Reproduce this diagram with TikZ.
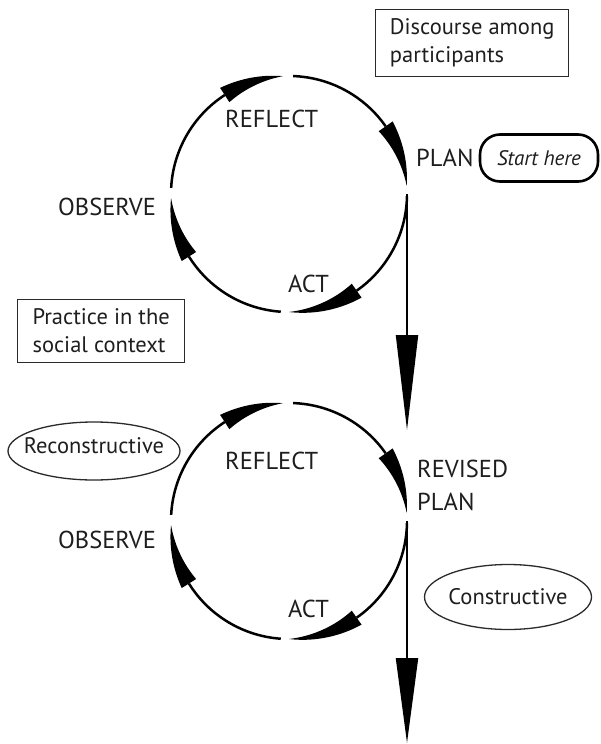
\documentclass[tikz,border=0pt]{standalone}
\usepackage{fontspec}
\setmainfont{PT Sans}
\usetikzlibrary{arrows.meta,shapes.geometric}

% radius of a cycle and half the width of its arrow wedges
\def\rr{118pt}
\def\ww{8.5pt}
% one quarter of a cycle: plain arc from #1 to #2, then a tapering wedge from #2 to #3
\newcommand\cycseg[3]{%
  \draw[ring] (#1:\rr) arc[start angle=#1, end angle=#2, radius=\rr];
  \fill[black] plot[domain=0:1, samples=30] ({#2+(#3-#2)*\x}:{\rr+\ww*(1-\x)})
    -- plot[domain=1:0, samples=30] ({#2+(#3-#2)*\x}:{\rr-\ww*(1-\x)}) -- cycle;
}
\newcommand\cycle[1]{%
  \begin{scope}[shift={(#1)}]
    \cycseg{177}{123}{93}
    \cycseg{88}{35}{4}
    \cycseg{-1}{-55}{-90}
    \cycseg{-94}{-148}{-178}
  \end{scope}
}

\definecolor{ink}{HTML}{1E1E1E}
\definecolor{edge}{HTML}{2A2A2A}

\begin{document}
\begin{tikzpicture}[x=1pt, y=-1pt,
  lbl/.style={font=\fontsize{24.5}{33}\selectfont, text=ink, inner sep=0pt, anchor=base west, align=left},
  note/.style={draw=edge, line width=1.3pt, font=\fontsize{22.5}{28}\selectfont, text=ink,
    align=left, anchor=north west, inner sep=0pt},
  oval/.style={ellipse, draw=edge, line width=1.3pt, font=\fontsize{22.5}{28}\selectfont,
    text=ink, inner sep=0pt},
  startbox/.style={rectangle, rounded corners=20pt, draw=black, line width=2.6pt,
    font=\fontsize{21}{25}\selectfont\itshape, text=ink, inner sep=0pt},
  ring/.style={line width=2.5pt, draw=black},
  flow/.style={line width=2pt, draw=black, -{Triangle[length=95pt, width=22pt]}},
  flowend/.style={line width=2pt, draw=black, -{Triangle[length=85pt, width=22pt]}},
]
\useasboundingbox (0,0) rectangle (600,744);

% first cycle
\coordinate (c1) at (289,194);
\cycle{c1}
\coordinate (plan1) at (407,194);
\coordinate (tip1) at (407,430);
\draw[flow] (plan1) -- (tip1);

\node[lbl] (reflect1) at (225,127) {REFLECT};
\node[lbl] (plan1lbl) at (416,166) {PLAN};
\node[lbl] (act1) at (288,292) {ACT};
\node[lbl] (observe1) at (58,215) {OBSERVE};

% second cycle
\coordinate (c2) at (289,521);
\cycle{c2}
\coordinate (plan2) at (407,521);
\coordinate (tip2) at (407,743);
\draw[flowend] (plan2) -- (tip2);

\node[lbl] (reflect2) at (225,469) {REFLECT};
\node[lbl] (revised) at (417,510) {REVISED\\PLAN};
\node[lbl] (act2) at (288,617) {ACT};
\node[lbl] (observe2) at (58,548) {OBSERVE};

% side notes
\node[note, minimum width=193pt, minimum height=67pt] (discourse) at (375,9)
  {Discourse among\\participants};
\node[note, minimum width=167pt, minimum height=63pt] (practice) at (17,299)
  {Practice in the\\social context};
\node[startbox, minimum width=118pt, minimum height=47pt] (start) at (539,158) {Start here};
\node[oval, minimum width=172pt, minimum height=58pt] (recon) at (94,451)
  {\raisebox{-2pt}[0pt][0pt]{\makebox[0pt]{Reconstructive}}};
\node[oval, minimum width=167pt, minimum height=65pt] (constr) at (508,597)
  {\raisebox{-7pt}[0pt][0pt]{\makebox[0pt]{Constructive}}};
\end{tikzpicture}
\end{document}
